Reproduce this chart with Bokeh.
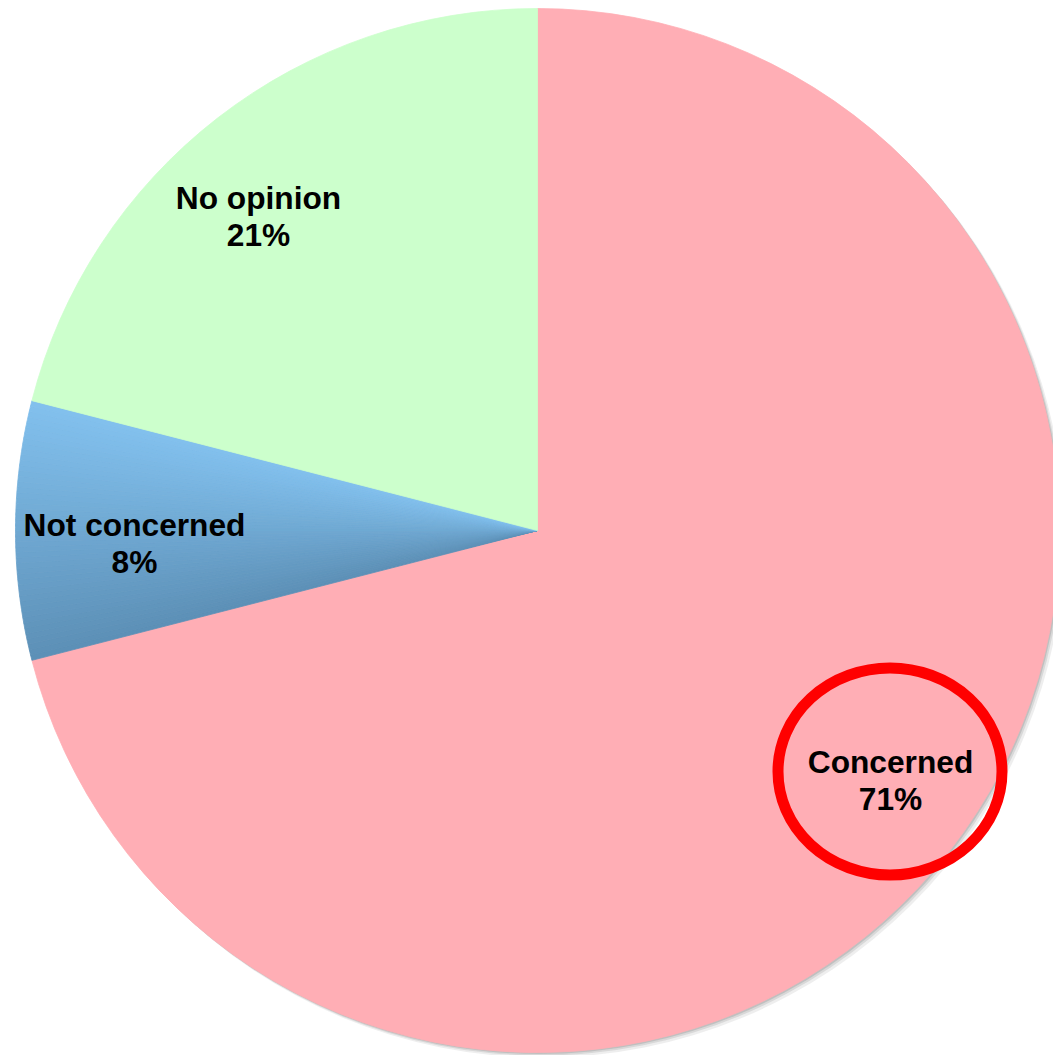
import numpy as np
from bokeh.plotting import figure
from bokeh.models import Range1d, ColumnDataSource
from bokeh.core.properties import value
from bokeh.embed import file_html
from bokeh.resources import INLINE

# ---- data ----
categories = ["Concerned", "Not concerned", "No opinion"]
percents = [71, 8, 21]
labels = ["Concerned\n71%", "Not concerned\n8%", "No opinion\n21%"]
colors = ["#FFAEB5", "#78B4E3", "#CCFFCC"]
blue_top = (0x82, 0xC1, 0xEE)
blue_bottom = (0x5C, 0x8F, 0xB6)

# label anchor positions (screen-like coordinates)
label_x = [890, 134, 258]
label_y = [761, 524, 197]

CX, CY, R = 537, 530, 522

p = figure(width=1053, height=1055, output_backend="svg", toolbar_location=None,
           x_range=Range1d(0, 1053), y_range=Range1d(-1055, 0),
           min_border=0, min_border_left=0, min_border_right=0,
           min_border_top=0, min_border_bottom=0)
p.axis.visible = False
p.grid.visible = False
p.outline_line_color = None
p.background_fill_color = "white"
p.border_fill_color = "white"

# shadow
for off, a in [(5, 0.12), (3, 0.18), (1.5, 0.25)]:
    p.circle(x=[CX + off], y=[-(CY + off)], radius=R, fill_color="#777777",
             fill_alpha=a, line_color=None)

fr = np.array(percents) / sum(percents)
ends = np.cumsum(fr)
starts = ends - fr
start_ang = np.pi / 2 - 2 * np.pi * starts
end_ang = np.pi / 2 - 2 * np.pi * ends

for i, cat in enumerate(categories):
    if cat == "Not concerned":
        n = 48
        a = np.linspace(start_ang[i], end_ang[i], n + 1)
        cols = []
        y0 = CY - R * np.sin(end_ang[i])
        y1 = CY - R * np.sin(start_ang[i])
        for k in range(n):
            mid = (a[k] + a[k + 1]) / 2
            ypix = CY - R * np.sin(mid)
            t = (ypix - y0) / (y1 - y0)
            t = min(max(t, 0), 1)
            c = tuple(int(round(blue_top[j] + (blue_bottom[j] - blue_top[j]) * t)) for j in range(3))
            cols.append("#%02x%02x%02x" % c)
        src = ColumnDataSource(dict(x=[CX] * n, y=[-CY] * n, s=list(a[:-1]), e=list(a[1:]), c=cols))
        p.wedge(x="x", y="y", radius=R, start_angle="s", end_angle="e", direction="clock",
                fill_color="c", line_color="c", line_width=0.8, source=src)
    else:
        p.wedge(x=CX, y=-CY, radius=R, start_angle=start_ang[i], end_angle=end_ang[i],
                direction="clock", fill_color=colors[i], line_color=colors[i], line_width=0.8)

# labels
for i, lab in enumerate(labels):
    l1, l2 = lab.split("\n")
    p.text(x=[label_x[i], label_x[i]], y=[-label_y[i], -(label_y[i] + 37)], text=[l1, l2],
           text_font=value("Liberation Sans"), text_font_style="bold",
           text_font_size="31.7px", text_color="black",
           text_align="center", text_baseline="alphabetic")

# red highlight ellipse around Concerned
p.ellipse(x=[889.5], y=[-771], width=224, height=207, fill_color=None,
          line_color="#FF0000", line_width=11)

open("out.html", "w").write(file_html(p, INLINE))
